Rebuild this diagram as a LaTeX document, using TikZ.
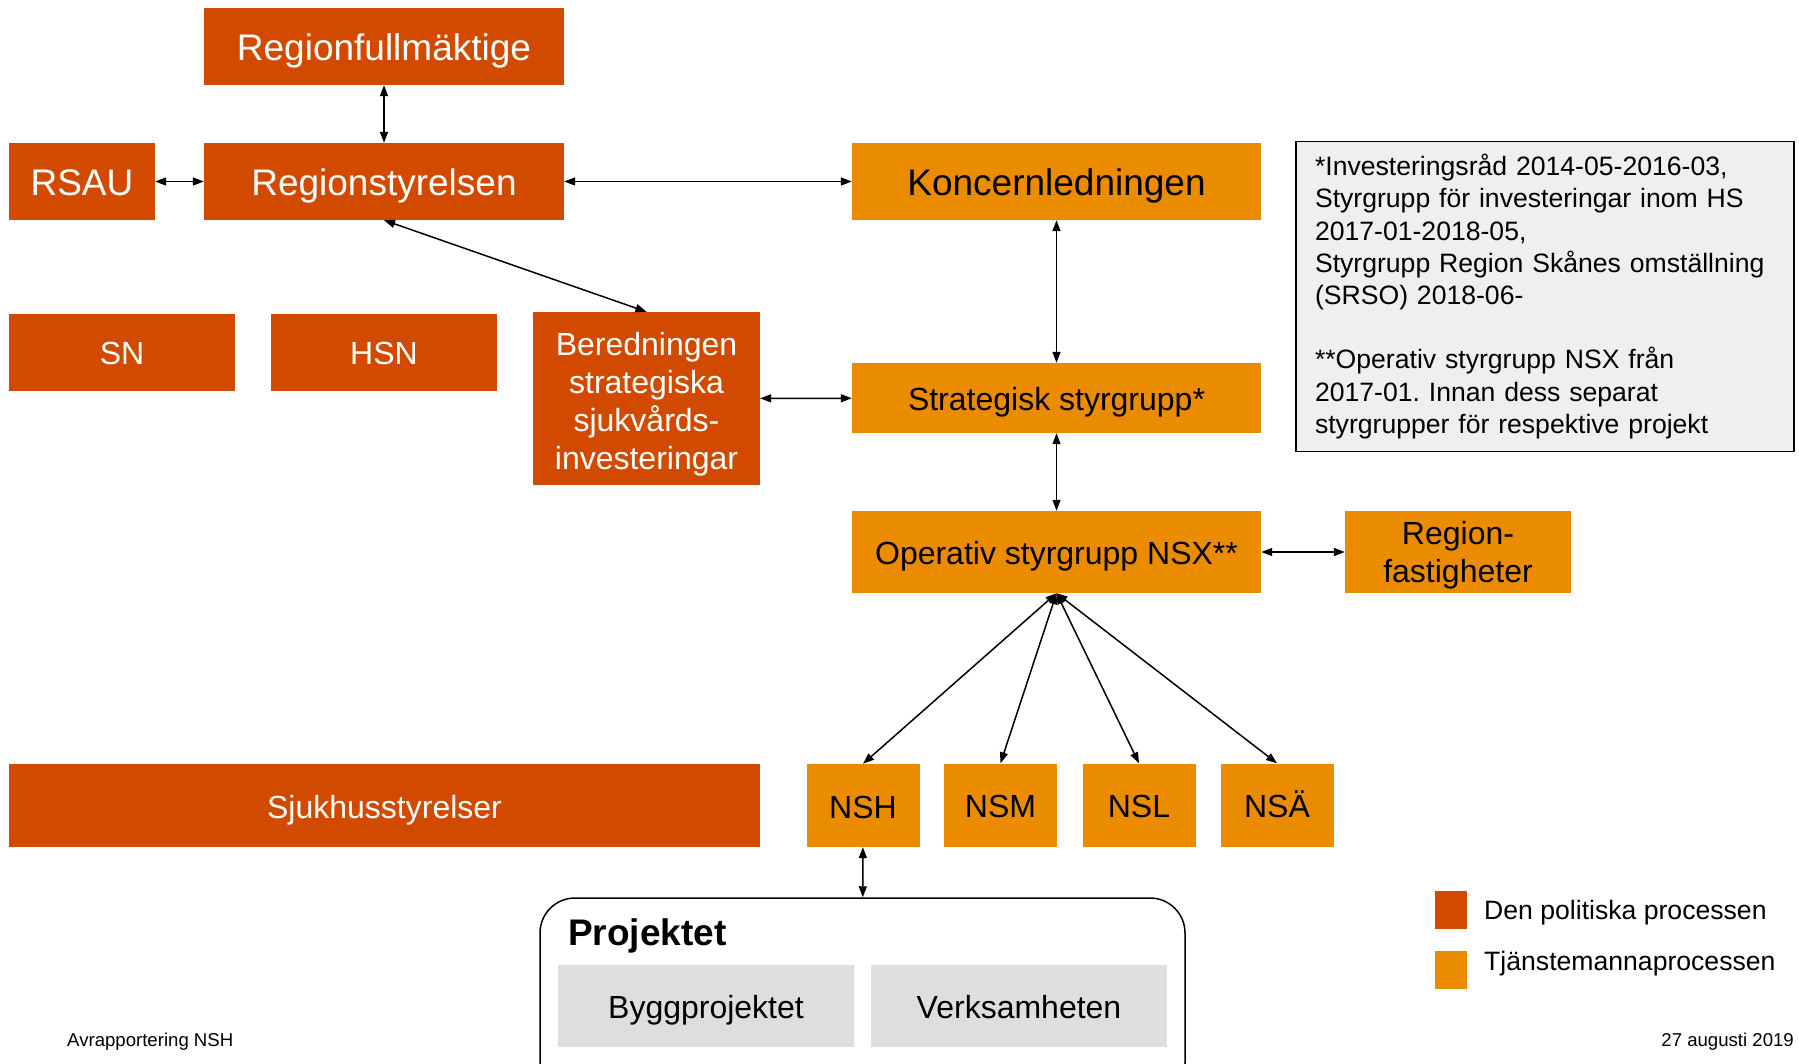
\documentclass[tikz,border=0pt]{standalone}
\usepackage{fontspec}
\setmainfont{Liberation Sans}
\usetikzlibrary{arrows.meta}
\definecolor{polcol}{HTML}{D24A00}
\definecolor{tjmcol}{HTML}{EB8C00}
\definecolor{grabox}{HTML}{DEDEDE}
\definecolor{notecol}{HTML}{EFEFEF}
\frenchspacing

\begin{document}
\begin{tikzpicture}[x=1pt,y=-1pt,
  pol/.style={fill=polcol,text=white,inner sep=0pt,align=center},
  tjm/.style={fill=tjmcol,text=black,inner sep=0pt,align=center},
  big/.style={font=\fontsize{37}{44}\selectfont,text height=28.9pt,text depth=0pt},
  mid/.style={font=\fontsize{32}{38}\selectfont,text height=25pt,text depth=0pt},
  midml/.style={font=\fontsize{32}{38}\selectfont},
  pil/.style={{Triangle[length=11pt,width=8pt]}-{Triangle[length=11pt,width=8pt]},line width=1.5pt}]
  \path[use as bounding box] (0,0) rectangle (1799,1064);
  \clip (0,0) rectangle (1799,1064);
  % politiska organ
  \node[pol,big,minimum width=360pt,minimum height=77pt] (fullm) at (384,46.5) {Regionfullmäktige};
  \node[pol,big,minimum width=360pt,minimum height=77pt] (rs) at (384,181.5) {Regionstyrelsen};
  \node[pol,big,minimum width=146pt,minimum height=77pt] (rsau) at (82,181.5) {RSAU};
  \node[pol,mid,minimum width=226pt,minimum height=77pt] (sn) at (122,352.5) {SN};
  \node[pol,mid,minimum width=226pt,minimum height=77pt] (hsn) at (384,352.5) {HSN};
  \node[pol,midml,minimum width=227pt,minimum height=173pt] (ber) at (646.5,398.5) {\rule{0pt}{35pt}Beredningen\\strategiska\\sjukvårds-\\investeringar};
  \node[pol,mid,minimum width=751pt,minimum height=83pt] (sjuk) at (384.5,805.5) {Sjukhusstyrelser};
  % tjänstemän
  \node[tjm,big,minimum width=409pt,minimum height=77pt] (kl) at (1056.5,181.5) {Koncernledningen};
  \node[tjm,mid,minimum width=409pt,minimum height=70pt] (strat) at (1056.5,398) {Strategisk styrgrupp*};
  \node[tjm,mid,minimum width=409pt,minimum height=82pt] (op) at (1056.5,552) {Operativ styrgrupp NSX**};
  \node[tjm,midml,minimum width=226pt,minimum height=82pt] (rf) at (1458,552) {\rule{0pt}{30pt}Region-\\fastigheter};
  \node[tjm,mid,minimum width=113pt,minimum height=83pt] (nsh) at (863,805.5) {NSH};
  \node[tjm,mid,minimum width=113pt,minimum height=83pt] (nsm) at (1000.5,805) {NSM};
  \node[tjm,mid,minimum width=113pt,minimum height=83pt] (nsl) at (1139,805) {NSL};
  \node[tjm,mid,minimum width=113pt,minimum height=83pt] (nsa) at (1277,805) {NSÄ};
  % fotnoter
  \node[draw=black,line width=1.5pt,fill=notecol,minimum width=498pt,minimum height=310pt,
    text width=460pt,inner xsep=19pt,align=left,font=\fontsize{26.6}{32.2}\selectfont] (note) at (1545,296.5)
    {*Investeringsråd 2014-05-2016-03,\\Styrgrupp för investeringar inom HS\\2017-01-2018-05,\\Styrgrupp Region Skånes omställning\\(SRSO) 2018-06-\\[32.2pt]**Operativ styrgrupp NSX från\\2017-01. Innan dess separat\\styrgrupper för respektive projekt};
  % projektet
  \node[draw=black,line width=1.5pt,rounded corners=35pt,minimum width=645pt,minimum height=200pt] (proj) at (862.5,998) {};
  \node[anchor=base west,inner sep=0pt,font=\fontsize{37}{44}\selectfont\bfseries] (projtit) at (568,945) {Projektet};
  \node[fill=grabox,mid,inner sep=0pt,minimum width=296pt,minimum height=82pt] (bygg) at (706,1006) {Byggprojektet};
  \node[fill=grabox,mid,inner sep=0pt,minimum width=296pt,minimum height=82pt] (verk) at (1019,1006) {Verksamheten};
  % teckenförklaring
  \node[fill=polcol,inner sep=0pt,minimum width=32pt,minimum height=38pt] (legpol) at (1451,910) {};
  \node[fill=tjmcol,inner sep=0pt,minimum width=32pt,minimum height=38pt] (legtjm) at (1451,970) {};
  \node[anchor=west,inner sep=0pt,font=\fontsize{26.6}{32}\selectfont] (legpoltxt) at (1484,913) {Den politiska processen};
  \node[anchor=west,inner sep=0pt,font=\fontsize{26.6}{32}\selectfont] (legtjmtxt) at (1484,964) {Tjänstemannaprocessen};
  \node[anchor=west,inner sep=0pt,font=\fontsize{18.6}{22}\selectfont] (fot) at (67,1041.5) {Avrapportering NSH};
  \node[anchor=east,inner sep=0pt,font=\fontsize{18.6}{22}\selectfont] (datum) at (1794,1041.5) {27 augusti 2019};
  % pilar
  \draw[pil] (fullm) -- (rs);
  \draw[pil] (rsau) -- (rs);
  \draw[pil] (rs) -- (kl);
  \draw[pil] (rs.south) -- (ber.north);
  \draw[pil] (kl) -- (strat);
  \draw[pil] (ber) -- (strat);
  \draw[pil] (strat) -- (op);
  \draw[pil] (op) -- (rf);
  \foreach \n in {nsh,nsm,nsl,nsa}
    \draw[pil] (op.south) -- (\n.north);
  \draw[pil] (nsh) -- (proj);
\end{tikzpicture}
\end{document}
